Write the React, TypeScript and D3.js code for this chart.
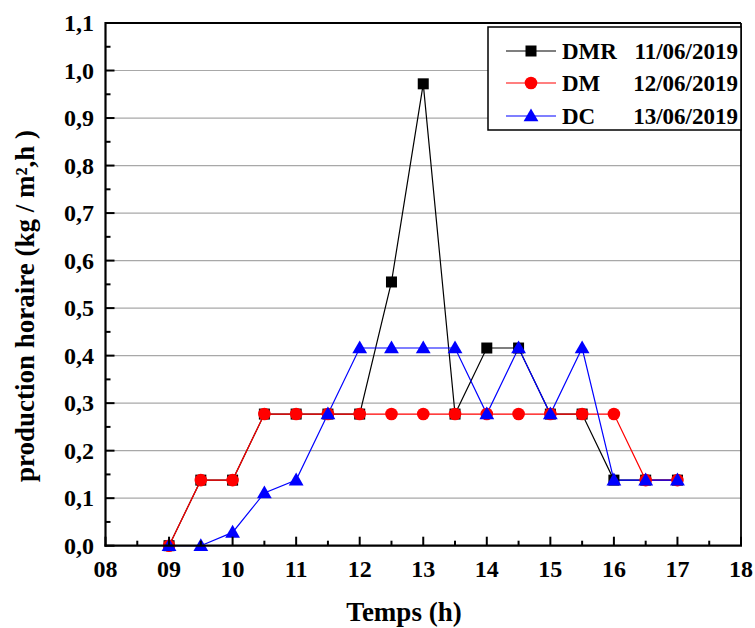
import React from "react";
import * as d3 from "d3";

const hours = [9, 9.5, 10, 10.5, 11, 11.5, 12, 12.5, 13, 13.5, 14, 14.5, 15, 15.5, 16, 16.5, 17];
const dmr = [0, 0.138, 0.138, 0.277, 0.277, 0.277, 0.277, 0.555, 0.972, 0.277, 0.416, 0.416, 0.277, 0.277, 0.138, 0.138, 0.138];
const dm = [0, 0.138, 0.138, 0.277, 0.277, 0.277, 0.277, 0.277, 0.277, 0.277, 0.277, 0.277, 0.277, 0.277, 0.277, 0.138, 0.138];
const dc = [0, 0, 0.028, 0.111, 0.138, 0.277, 0.416, 0.416, 0.416, 0.416, 0.277, 0.416, 0.277, 0.416, 0.138, 0.138, 0.138];

const xTickLabels = ["08", "09", "10", "11", "12", "13", "14", "15", "16", "17", "18"];
const yTickLabels = ["0,0", "0,1", "0,2", "0,3", "0,4", "0,5", "0,6", "0,7", "0,8", "0,9", "1,0", "1,1"];

const seriesNames = ["DMR", "DM", "DC"];
const seriesDates = ["11/06/2019", "12/06/2019", "13/06/2019"];
const seriesColors = ["#000000", "#ff0000", "#0000ff"];
const seriesShapes = ["square", "circle", "triangle"];

const FONT = "'Liberation Serif', 'Times New Roman', serif";

const x = d3.scaleLinear().domain([8, 18]).range([105.5, 741]);
const y = d3.scaleLinear().domain([0, 1.1]).range([545.7, 23]);

function Marker({ shape, cx, cy, color }: { shape: string; cx: number; cy: number; color: string }) {
  if (shape === "square") {
    const s = 11;
    return <rect x={cx - s / 2} y={cy - s / 2} width={s} height={s} fill={color} />;
  }
  if (shape === "circle") {
    return <circle cx={cx} cy={cy} r={6.3} fill={color} />;
  }
  const path = d3.symbol(d3.symbolTriangle, 95)()!;
  return <path d={path} transform={`translate(${cx},${cy + 1})`} fill={color} />;
}

export default function App() {
  const series = [dmr, dm, dc];
  const line = d3
    .line<[number, number]>()
    .x((d) => x(d[0]))
    .y((d) => y(d[1]));

  const majorY = d3.range(0, 12).map((i) => i / 10);
  const minorY = d3.range(0, 11).map((i) => i / 10 + 0.05);
  const majorX = d3.range(8, 19);
  const minorX = d3.range(8, 18).map((v) => v + 0.5);

  const legendRows = [51, 83, 116];

  return (
    <svg
      width={755}
      height={628}
      style={{ position: "absolute", left: 0, top: 0, background: "#fff" }}
      fontFamily={FONT}
      fontWeight="bold"
    >
      <rect x={0} y={0} width={755} height={628} fill="#fff" />
      {/* grid */}
      {majorY
        .filter((v) => v > 0 && v < 1.05)
        .map((v, i) => (
          <line key={"g" + i} x1={x(8)} x2={x(18)} y1={y(v)} y2={y(v)} stroke="#a8a8a8" strokeWidth={1.2} />
        ))}

      {/* series */}
      {series.map((vals, si) => (
        <g key={"s" + si}>
          <path
            d={line(hours.map((h, i) => [h, vals[i]] as [number, number]))!}
            fill="none"
            stroke={seriesColors[si]}
            strokeWidth={1.2}
          />
        </g>
      ))}
      {series.map((vals, si) => (
        <g key={"m" + si}>
          {hours.map((h, i) => (
            <Marker key={i} shape={seriesShapes[si]} cx={x(h)} cy={y(vals[i])} color={seriesColors[si]} />
          ))}
        </g>
      ))}

      {/* frame */}
      <line x1={x(8)} x2={x(18)} y1={23} y2={23} stroke="#000" strokeWidth={1.8} />
      <line x1={x(18)} x2={x(18)} y1={23} y2={y(0)} stroke="#000" strokeWidth={1.8} />
      <line x1={x(8)} x2={x(8)} y1={22} y2={y(0) + 1} stroke="#000" strokeWidth={2.2} />
      <line x1={x(8) - 1} x2={x(18) + 1} y1={y(0)} y2={y(0)} stroke="#000" strokeWidth={2.2} />

      {/* y ticks */}
      {majorY.map((v, i) => (
        <line key={"ym" + i} x1={x(8)} x2={x(8) + 9} y1={y(v)} y2={y(v)} stroke="#000" strokeWidth={2} />
      ))}
      {minorY.map((v, i) => (
        <line key={"yn" + i} x1={x(8)} x2={x(8) + 5} y1={y(v)} y2={y(v)} stroke="#000" strokeWidth={2} />
      ))}
      {majorY.map((v, i) => (
        <text key={"yl" + i} x={94} y={y(v) + 8} textAnchor="end" fontSize={24} fill="#000">
          {yTickLabels[i]}
        </text>
      ))}

      {/* x ticks */}
      {majorX.map((v, i) => (
        <line key={"xm" + i} x1={x(v)} x2={x(v)} y1={y(0)} y2={y(0) - 9} stroke="#000" strokeWidth={2} />
      ))}
      {minorX.map((v, i) => (
        <line key={"xn" + i} x1={x(v)} x2={x(v)} y1={y(0)} y2={y(0) - 5} stroke="#000" strokeWidth={2} />
      ))}
      {majorX.map((v, i) => (
        <text key={"xl" + i} x={x(v)} y={577} textAnchor="middle" fontSize={24} fill="#000">
          {xTickLabels[i]}
        </text>
      ))}

      {/* axis titles */}
      <text x={404} y={621} textAnchor="middle" fontSize={27} fill="#000">
        Temps (h)
      </text>
      <text transform="translate(34,306) rotate(-90)" textAnchor="middle" fontSize={27} fill="#000">
        production horaire (kg / m²,h )
      </text>

      {/* legend */}
      <rect x={488} y={27} width={x(18) - 488} height={103} fill="#fff" stroke="#000" strokeWidth={1.5} />
      {seriesNames.map((name, i) => (
        <g key={"l" + i}>
          <line x1={506} x2={556} y1={legendRows[i]} y2={legendRows[i]} stroke={seriesColors[i]} strokeWidth={1.2} />
          <Marker shape={seriesShapes[i]} cx={531} cy={legendRows[i]} color={seriesColors[i]} />
          <text x={562} y={legendRows[i] + 8} fontSize={23} fill="#000">
            {name}
          </text>
          <text x={738} y={legendRows[i] + 8} textAnchor="end" fontSize={23} fill="#000">
            {seriesDates[i]}
          </text>
        </g>
      ))}
    </svg>
  );
}
